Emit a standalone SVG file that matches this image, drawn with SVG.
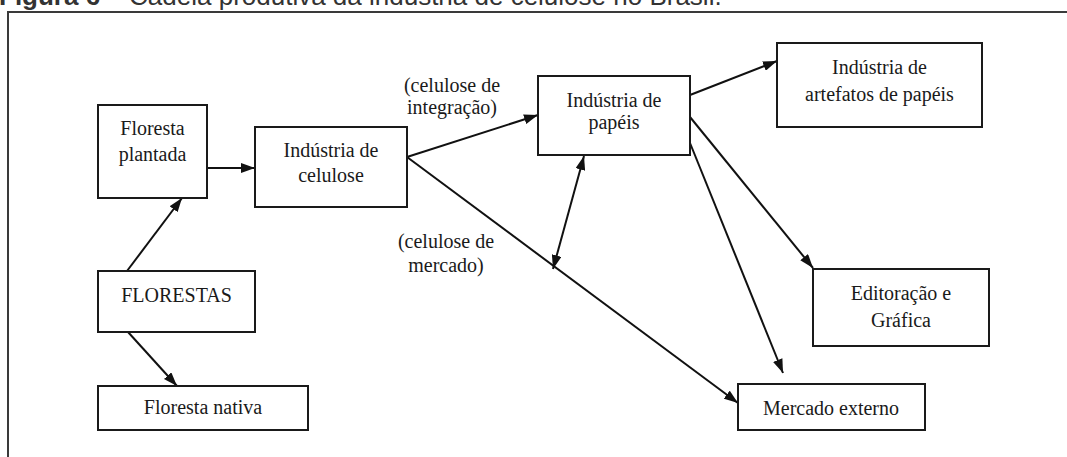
<svg xmlns="http://www.w3.org/2000/svg" width="1067" height="457" viewBox="0 0 1067 457">
<style>
.title{font-family:"Liberation Sans",Arial,sans-serif;font-size:26px;fill:#333}
.box{fill:#fff;stroke:#1a1a1a;stroke-width:2}
.t{font-family:"Liberation Serif","Times New Roman",serif;font-size:20px;fill:#1a1a1a;text-anchor:middle}
.c{stroke:#111;stroke-width:2;fill:none}
.frame{stroke:#3a3a3a;stroke-width:2;fill:none}
</style>
<defs>
<marker id="ah" viewBox="0 0 14 10" refX="14" refY="5" markerWidth="14" markerHeight="10" markerUnits="userSpaceOnUse" orient="auto-start-reverse">
<path d="M0,0 L14,5 L0,10 Z" fill="#111"/>
</marker>
</defs>
<rect width="1067" height="457" fill="#fff"/>
<text class="title" x="-1" y="5"><tspan font-weight="bold">Figura 6 –</tspan> Cadeia produtiva da indústria de celulose no Brasil.</text>
<path class="frame" d="M8,457 V12 H1067"/>
<g id="connectors">
<line class="c" x1="207" y1="168" x2="255" y2="168" marker-end="url(#ah)"/>
<line class="c" x1="127" y1="271" x2="182" y2="198" marker-end="url(#ah)"/>
<line class="c" x1="128" y1="332" x2="177" y2="386" marker-end="url(#ah)"/>
<line class="c" x1="407" y1="157" x2="538" y2="115" marker-end="url(#ah)"/>
<line class="c" x1="407" y1="157" x2="738" y2="403" marker-end="url(#ah)"/>
<line class="c" x1="584" y1="156" x2="553" y2="269" marker-start="url(#ah)" marker-end="url(#ah)"/>
<line class="c" x1="690" y1="95" x2="777" y2="61" marker-end="url(#ah)"/>
<line class="c" x1="690" y1="117" x2="813" y2="268" marker-end="url(#ah)"/>
<line class="c" x1="690" y1="143" x2="783" y2="373" marker-end="url(#ah)"/>
</g>
<g id="floresta-plantada">
<rect class="box" x="98" y="105" width="109" height="93"/>
<text class="t" x="152.5" y="135">Floresta</text>
<text class="t" x="152.5" y="161">plantada</text>
</g>
<g id="florestas">
<rect class="box" x="98" y="271" width="157" height="61"/>
<text class="t" x="176.5" y="302">FLORESTAS</text>
</g>
<g id="floresta-nativa">
<rect class="box" x="98" y="386" width="210" height="44"/>
<text class="t" x="203" y="414">Floresta nativa</text>
</g>
<g id="industria-celulose">
<rect class="box" x="255" y="127" width="152" height="80"/>
<text class="t" x="331" y="157">Indústria de</text>
<text class="t" x="331" y="182">celulose</text>
</g>
<g id="label-integracao">
<text class="t" x="452" y="92">(celulose de</text>
<text class="t" x="452" y="114">integração)</text>
</g>
<g id="label-mercado">
<text class="t" x="446" y="248">(celulose de</text>
<text class="t" x="446" y="272">mercado)</text>
</g>
<g id="industria-papeis">
<rect class="box" x="538" y="76" width="152" height="79"/>
<text class="t" x="614" y="107">Indústria de</text>
<text class="t" x="614" y="129">papéis</text>
</g>
<g id="artefatos">
<rect class="box" x="777" y="43" width="205" height="84"/>
<text class="t" x="879.5" y="74">Indústria de</text>
<text class="t" x="879.5" y="101">artefatos de papéis</text>
</g>
<g id="editoracao">
<rect class="box" x="813" y="269" width="176" height="77"/>
<text class="t" x="901" y="300">Editoração e</text>
<text class="t" x="901" y="327">Gráfica</text>
</g>
<g id="mercado-externo">
<rect class="box" x="738" y="384" width="187" height="46"/>
<text class="t" x="831" y="415">Mercado externo</text>
</g>
</svg>
